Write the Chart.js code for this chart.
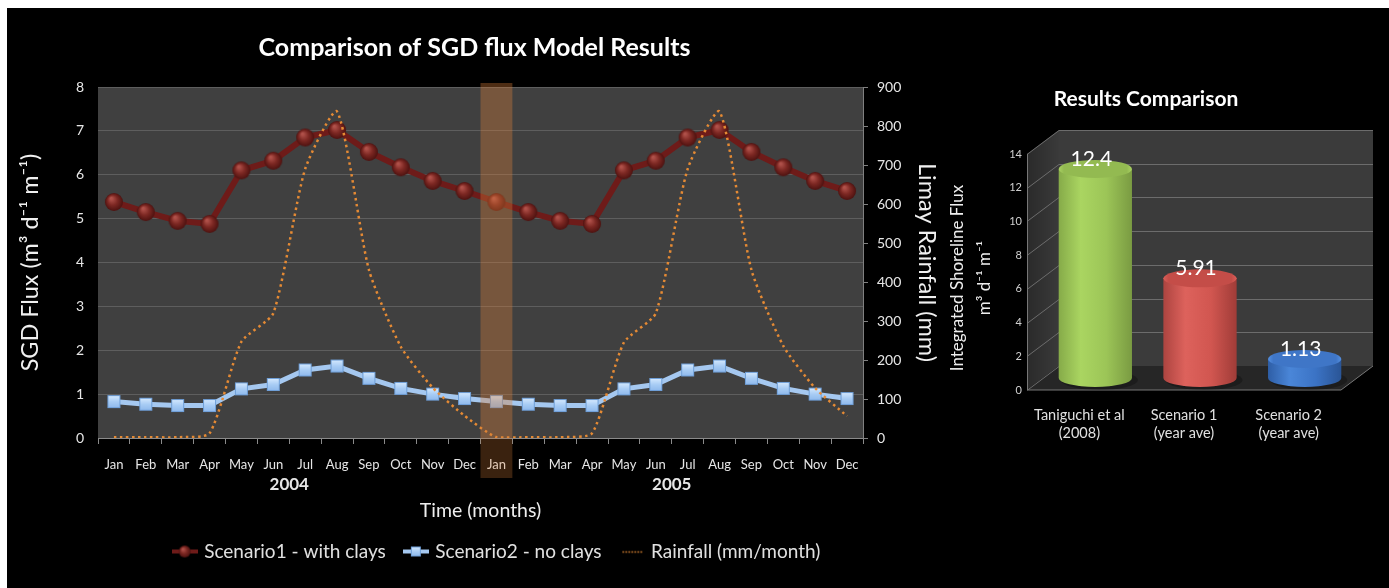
<!DOCTYPE html>
<html><head><meta charset="utf-8">
<script src="https://cdn.jsdelivr.net/npm/chart.js@4.4.0/dist/chart.umd.min.js"></script>
<style>
html,body{margin:0;padding:0;background:#fff;width:1389px;height:588px;overflow:hidden}
#bg{position:absolute;left:7px;top:8px;width:1382px;height:580px;background:#000}
#c1{position:absolute;left:0;top:0}
#c2{position:absolute;left:945px;top:0}
</style></head><body>
<div id="bg"></div>
<canvas id="c1" width="945" height="588"></canvas>
<canvas id="c2" width="444" height="588"></canvas>
<script>
// ---------- data ----------
const months = ["Jan","Feb","Mar","Apr","May","Jun","Jul","Aug","Sep","Oct","Nov","Dec",
                "Jan","Feb","Mar","Apr","May","Jun","Jul","Aug","Sep","Oct","Nov","Dec"];
const years = ["2004","2005"];
const scenario1 = [5.38,5.15,4.95,4.88,6.10,6.32,6.85,7.02,6.52,6.17,5.86,5.63,
                   5.38,5.15,4.95,4.88,6.10,6.32,6.85,7.02,6.52,6.17,5.86,5.63];
const scenario2 = [0.83,0.77,0.74,0.74,1.12,1.22,1.55,1.64,1.36,1.13,1.00,0.90,
                   0.83,0.77,0.74,0.74,1.12,1.22,1.55,1.64,1.36,1.13,1.00,0.90];
const rainfall  = [2,2,2,12,247,320,690,837,431,234,129,57,
                   2,2,2,12,245,320,690,837,431,236,128,56];
const seriesNames = ["Scenario1 - with clays","Scenario2 - no clays","Rainfall (mm/month)"];
const highlightMonth = 12;

const studies = [["Taniguchi et al","(2008)"],["Scenario 1","(year ave)"],["Scenario 2","(year ave)"]];
const integratedFlux = [12.4, 5.91, 1.13];
const fluxLabels = ["12.4","5.91","1.13"];

// ---------- helpers ----------
const FONT = 'Lato, "Open Sans", "DejaVu Sans", sans-serif';
Chart.defaults.font.family = FONT;
Chart.defaults.color = '#e6e6e6';

function sphere(r){
  const c=document.createElement('canvas'); c.width=c.height=2*r+2;
  const g=c.getContext('2d'); const cx=r+1;
  const gr=g.createRadialGradient(cx-r*0.3,cx-r*0.4,r*0.1,cx,cx,r);
  gr.addColorStop(0,'#b0514a'); gr.addColorStop(0.5,'#7d2823'); gr.addColorStop(1,'#4d1210');
  g.fillStyle=gr; g.beginPath(); g.arc(cx,cx,r,0,Math.PI*2); g.fill();
  return c;
}
function square(s){
  const c=document.createElement('canvas'); c.width=c.height=s+2;
  const g=c.getContext('2d');
  const gr=g.createLinearGradient(0,1,0,s+1);
  gr.addColorStop(0,'#d8ebff'); gr.addColorStop(0.5,'#a9cdf5'); gr.addColorStop(1,'#8db8ec');
  g.fillStyle=gr; g.fillRect(1,1,s,s);
  g.strokeStyle='#6f9fd8'; g.lineWidth=1; g.strokeRect(1.5,1.5,s-1,s-1);
  return c;
}
function legendIcon(kind){
  const c=document.createElement('canvas'); c.width=26; c.height=16;
  const g=c.getContext('2d');
  if(kind===0){ g.strokeStyle='#6e1b19'; g.lineWidth=4; g.beginPath(); g.moveTo(0,8); g.lineTo(26,8); g.stroke(); g.drawImage(sphere(6),6,1); }
  else if(kind===1){ g.strokeStyle='#a5c8f0'; g.lineWidth=4; g.beginPath(); g.moveTo(0,8); g.lineTo(26,8); g.stroke(); g.drawImage(square(10),7,2); }
  else { g.strokeStyle='#e58a34'; g.lineWidth=1.5; g.setLineDash([1.5,1.5]); g.beginPath(); g.moveTo(4,8.5); g.lineTo(24,8.5); g.stroke(); }
  return c;
}
const dotImg = sphere(9);
const sqImg = square(13);

// ---------- left chart ----------
const plotBg = { id:'plotBg', beforeDraw(chart){
  const {ctx, chartArea:a} = chart; ctx.save(); ctx.fillStyle='#404040';
  ctx.fillRect(a.left,a.top,a.width,a.height); ctx.restore(); } };
const highlight = { id:'highlight', afterDatasetsDraw(chart){
  const {ctx, chartArea:a, scales:{x}} = chart;
  const cw = x.getPixelForValue(1)-x.getPixelForValue(0);
  const cx = x.getPixelForValue(highlightMonth);
  ctx.save();
  ctx.fillStyle='rgba(215,125,55,0.36)';
  ctx.fillRect(cx-cw/2, a.top-4, cw, a.bottom-a.top+4);
  ctx.fillStyle='rgba(215,125,55,0.27)';
  ctx.fillRect(cx-cw/2, a.bottom, cw, 40);
  ctx.restore(); } };
const legendShift = { id:'legendShift', afterLayout(chart){
  const lg = chart.legend; if(lg){ lg.left += 23; lg.right += 23; } } };

new Chart(document.getElementById('c1'), {
  type:'line',
  data:{ labels: months, datasets:[
    {label:seriesNames[0], data:scenario1, yAxisID:'y', borderColor:'#6e1b19', borderWidth:6,
     pointStyle:dotImg, pointRadius:9, order:1},
    {label:seriesNames[1], data:scenario2, yAxisID:'y', borderColor:'#a5c8f0', borderWidth:5,
     pointStyle:sqImg, pointRadius:7, order:1},
    {label:seriesNames[2], data:rainfall, yAxisID:'y1', borderColor:'#e58a34', borderWidth:2.5,
     borderDash:[2.5,3.5], pointRadius:0, tension:0.2, order:0}
  ]},
  options:{
    responsive:false, animation:false, devicePixelRatio:1,
    layout:{padding:{left:8,right:4,bottom:17,top:0}},
    plugins:{
      title:{display:true, text:'Comparison of SGD flux Model Results', color:'#ffffff',
        font:{size:25, weight:'bold'}, padding:{top:33,bottom:24}},
      legend:{position:'bottom', labels:{usePointStyle:true, pointStyleWidth:20, padding:20,
        color:'#e0e0e0', font:{size:19},
        generateLabels(chart){ return chart.data.datasets.map((ds,i)=>({text:ds.label, fillStyle:'transparent',
          strokeStyle:'transparent', lineWidth:0, pointStyle:legendIcon(i), hidden:false, datasetIndex:i, fontColor:'#e0e0e0'})); }}},
      tooltip:{enabled:false}
    },
    scales:{
      x:{ type:'category', position:'bottom', offset:true, weight:0,
        grid:{drawOnChartArea:false, offset:true, tickLength:6, color:'#8a8a8a'},
        border:{display:true, color:'#8a8a8a'},
        ticks:{autoSkip:false, maxRotation:0, color:'#e6e6e6', font:{size:13}, padding:13},
        afterFit(s){ s.height = 38; } },
      x2:{ type:'category', labels: years, position:'bottom', offset:true, weight:1,
        grid:{display:false, drawTicks:false}, border:{display:false},
        ticks:{color:'#e6e6e6', font:{size:17, weight:'bold'}, padding:-2},
        title:{display:true, text:'Time (months)', color:'#eeeeee', font:{size:19.5}, padding:{top:0,bottom:0}},
        afterFit(s){ s.height = 46; } },
      y:{ position:'left', min:0, max:8, ticks:{stepSize:1, color:'#e6e6e6', font:{size:14}, padding:14},
        grid:{color:'#5e5e5e', drawTicks:false}, border:{display:false},
        title:{display:true, text:'SGD Flux (m³ d⁻¹ m⁻¹)', color:'#f0f0f0', font:{size:23.4}, padding:{top:8,bottom:0}},
        afterFit(s){ s.width = 90; } },
      y1:{ position:'right', min:0, max:900, ticks:{stepSize:100, color:'#e6e6e6', font:{size:14}, padding:9},
        grid:{drawOnChartArea:false, tickLength:5, color:'#808080'}, border:{display:true, color:'#808080'},
        title:{display:true, text:'Limay Rainfall (mm)', color:'#f0f0f0', font:{size:23.5}, padding:{top:0,bottom:0}},
        afterFit(s){ s.width = 78; } }
    }
  },
  plugins:[plotBg, highlight, legendShift]
});

// ---------- right chart ----------
const palettes = [
  {l:'#86ab49', hi:'#aad561', m:'#9cc557', r:'#7a9b42', top:'#93ba51', rim:'#a9d162'},
  {l:'#ad4440', hi:'#dd625c', m:'#d15650', r:'#a03c38', top:'#c44d48', rim:'#d95e58'},
  {l:'#2e5ea6', hi:'#4a86d8', m:'#3b73c5', r:'#2a5596', top:'#3f76c7', rim:'#5590e0'}
];
const DX = 16, DY = 12;
const walls = { id:'walls', beforeDatasetsDraw(chart){
  const {ctx, chartArea:a, scales:{y}} = chart;
  const L=a.left, R=a.right, y0=y.getPixelForValue(0), yT=y.getPixelForValue(14);
  ctx.save();
  ctx.fillStyle='#3b3b3b'; ctx.fillRect(L+DX, yT-DY, R-L, y0-yT);
  const lg=ctx.createLinearGradient(L-DX,0,L+DX,0); lg.addColorStop(0,'#2a2a2a'); lg.addColorStop(1,'#3a3a3a');
  ctx.fillStyle=lg; ctx.beginPath(); ctx.moveTo(L-DX,yT+DY); ctx.lineTo(L+DX,yT-DY); ctx.lineTo(L+DX,y0-DY); ctx.lineTo(L-DX,y0+DY); ctx.closePath(); ctx.fill();
  ctx.fillStyle='#262626'; ctx.beginPath(); ctx.moveTo(L-DX,y0+DY); ctx.lineTo(R-DX,y0+DY); ctx.lineTo(R+DX,y0-DY); ctx.lineTo(L+DX,y0-DY); ctx.closePath(); ctx.fill();
  ctx.strokeStyle='#6c6c6c'; ctx.lineWidth=1;
  y.ticks.forEach(t=>{ const py=Math.round(y.getPixelForValue(t.value))+0.5;
    ctx.beginPath(); ctx.moveTo(L-DX,py+DY); ctx.lineTo(L+DX,py-DY); if(t.value>0) ctx.lineTo(R+DX,py-DY); ctx.stroke(); });
  ctx.strokeStyle='#777';
  ctx.beginPath(); ctx.moveTo(L-DX+0.5,yT+DY); ctx.lineTo(L-DX+0.5,y0+DY); ctx.lineTo(R-DX,y0+DY); ctx.lineTo(R+DX,y0-DY); ctx.stroke();
  ctx.restore();
}, afterDatasetsDraw(chart){
  const {ctx} = chart; const meta = chart.getDatasetMeta(0);
  meta.data.forEach((bar,i)=>{
    const {x,y,base,width} = bar.getProps(['x','y','base','width'], true);
    const rx=width/2, ry=9, l=x-rx, r=x+rx, p=palettes[i];
    ctx.save();
    ctx.fillStyle='rgba(0,0,0,0.25)'; ctx.beginPath(); ctx.ellipse(x+4,base+2,rx+2,ry+1,0,0,Math.PI*2); ctx.fill();
    const g=ctx.createLinearGradient(l,0,r,0);
    g.addColorStop(0,p.l); g.addColorStop(0.3,p.hi); g.addColorStop(0.65,p.m); g.addColorStop(1,p.r);
    ctx.fillStyle=g; ctx.beginPath(); ctx.moveTo(l,y); ctx.lineTo(l,base);
    ctx.ellipse(x,base,rx,ry,0,Math.PI,0,true); ctx.lineTo(r,y); ctx.closePath(); ctx.fill();
    const tg=ctx.createRadialGradient(x,y,2,x,y,rx);
    tg.addColorStop(0,p.top); tg.addColorStop(0.85,p.top); tg.addColorStop(1,p.rim);
    ctx.fillStyle=tg;
    ctx.beginPath(); ctx.ellipse(x,y,rx,ry,0,0,Math.PI*2); ctx.fill();
    ctx.fillStyle='#ffffff'; ctx.font='21px '+FONT; ctx.textAlign='center'; ctx.textBaseline='middle';
    ctx.fillText(fluxLabels[i], x-4, y-10);
    ctx.restore();
  });
}, afterDraw(chart){
  const {ctx} = chart; ctx.save();
  ctx.fillStyle='#ffffff'; ctx.font='bold 21px '+FONT; ctx.textAlign='center'; ctx.textBaseline='middle';
  ctx.fillText('Results Comparison', 201, 99);
  ctx.translate(13, 278); ctx.rotate(-Math.PI/2);
  ctx.fillStyle='#eeeeee'; ctx.font='17px '+FONT;
  ctx.fillText('Integrated Shoreline Flux', 0, 0);
  ctx.fillText('m³ d⁻¹ m⁻¹', 0, 27);
  ctx.restore();
}};

new Chart(document.getElementById('c2'), {
  type:'bar',
  data:{ labels: studies, datasets:[{ data: integratedFlux, backgroundColor:'rgba(0,0,0,0)', borderWidth:0,
    categoryPercentage:1, barPercentage:0.7 }]},
  options:{
    responsive:false, animation:false, devicePixelRatio:1,
    layout:{padding:{left:0,right:32,top:142,bottom:0}},
    plugins:{legend:{display:false}, tooltip:{enabled:false}, title:{display:false}},
    scales:{
      x:{ grid:{display:false, drawTicks:false}, border:{display:false},
        ticks:{color:'#e0e0e0', font:{size:14.5, lineHeight:1.25}, padding:28, labelOffset:-16, maxRotation:0, autoSkip:false},
        afterFit(s){ s.height = 210; } },
      y:{ min:0, max:14, ticks:{stepSize:2, color:'#d0d0d0', font:{size:11}, padding:21, labelOffset:12},
        grid:{display:false, drawTicks:false}, border:{display:false},
        afterFit(s){ s.width = 98; } }
    }
  },
  plugins:[walls]
});
</script>
</body></html>
